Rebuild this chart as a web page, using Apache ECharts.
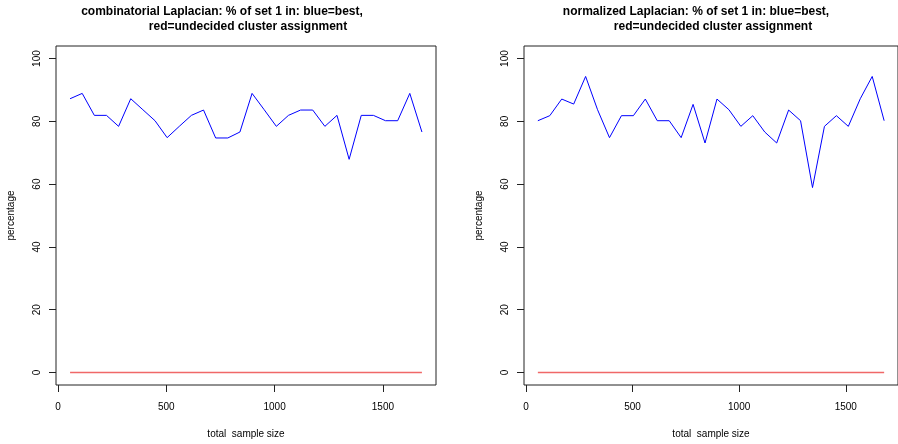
<!DOCTYPE html>
<html>
<head>
<meta charset="utf-8">
<script src="https://cdn.jsdelivr.net/npm/echarts@6/dist/echarts.min.js"></script>
<style>
html,body{margin:0;padding:0;background:#fff;}
#chart{width:898px;height:444px;}
</style>
</head>
<body>
<div id="chart"></div>
<script>
var sampleSizes = [56,112,168,224,280,336,392,448,504,560,616,672,728,784,840,896,952,1008,1064,1120,1176,1232,1288,1344,1400,1456,1512,1568,1624,1680];
var combBest = [87.2,88.9,81.9,81.9,78.4,87.2,83.7,80.2,74.8,78.4,81.9,83.6,74.7,74.7,76.6,88.9,83.7,78.4,81.9,83.6,83.6,78.4,81.9,67.9,81.9,81.9,80.2,80.2,88.9,76.6];
var combUndecided = [0,0,0,0,0,0,0,0,0,0,0,0,0,0,0,0,0,0,0,0,0,0,0,0,0,0,0,0,0,0];
var normBest = [80.2,81.8,87.1,85.5,94.3,83.7,74.8,81.8,81.8,87.1,80.2,80.2,74.8,85.4,73.1,87.1,83.7,78.4,81.8,76.6,73.1,83.6,80.2,58.9,78.4,81.8,78.4,87.2,94.3,80.2];
var normUndecided = [0,0,0,0,0,0,0,0,0,0,0,0,0,0,0,0,0,0,0,0,0,0,0,0,0,0,0,0,0,0];
var xTicks = [0,500,1000,1500];
var yTicks = [0,20,40,60,80,100];
var titleLeft1 = 'combinatorial Laplacian: % of set 1 in: blue=best,';
var titleRight1 = 'normalized Laplacian: % of set 1 in: blue=best,';
var titleLine2 = 'red=undecided cluster assignment';

function pairs(xs, ys){ return xs.map(function(x,i){ return [x, ys[i]]; }); }
function plain(v){ return String(v); }

var FONT = '"Liberation Sans", Arial, Helvetica, sans-serif';
var axisCol = '#222';

function xAxisDef(gi){
  return {
    type:'value', gridIndex:gi, min:-8.96, max:1744.96,
    axisLine:{show:false, onZero:false}, splitLine:{show:false},
    axisTick:{show:true, inside:false, length:7, customValues:xTicks, lineStyle:{color:axisCol,width:1}},
    axisLabel:{customValues:xTicks, formatter:plain, margin:17, color:'#000', fontSize:10, fontFamily:FONT},
    name:'total  sample size', nameLocation:'middle', nameGap:44,
    nameTextStyle:{color:'#000', fontSize:10, fontFamily:FONT}
  };
}
function yAxisDef(gi){
  return {
    type:'value', gridIndex:gi, min:-4, max:104,
    axisLine:{show:false, onZero:false}, splitLine:{show:false},
    axisTick:{show:true, inside:false, length:7, customValues:yTicks, lineStyle:{color:axisCol,width:1}},
    axisLabel:{customValues:yTicks, formatter:plain, rotate:90, margin:14, color:'#000', fontSize:10, fontFamily:FONT},
    name:'percentage', nameLocation:'middle', nameGap:40, nameRotate:90,
    nameTextStyle:{color:'#000', fontSize:10, fontFamily:FONT}
  };
}
var tStyle = {color:'#000', fontSize:12, fontWeight:'bold', fontFamily:FONT};

var chart = echarts.init(document.getElementById('chart'), null, {renderer:'canvas'});
chart.setOption({
  animation:false,
  backgroundColor:'#fff',
  title:[
    {text:titleLeft1, left:222, top:6, textAlign:'center', textStyle:tStyle, padding:0},
    {text:titleLine2, left:248, top:21, textAlign:'center', textStyle:tStyle, padding:0},
    {text:titleRight1, left:696, top:6, textAlign:'center', textStyle:tStyle, padding:0},
    {text:titleLine2, left:713, top:21, textAlign:'center', textStyle:tStyle, padding:0}
  ],
  grid:[
    {left:56, top:46, width:380, height:341, show:true, borderColor:axisCol, borderWidth:1, backgroundColor:'transparent'},
    {left:524, top:46, width:380, height:341, show:true, borderColor:axisCol, borderWidth:1, backgroundColor:'transparent'}
  ],
  xAxis:[xAxisDef(0), xAxisDef(1)],
  yAxis:[yAxisDef(0), yAxisDef(1)],
  series:[
    {type:'line', xAxisIndex:0, yAxisIndex:0, data:pairs(sampleSizes, combBest), showSymbol:false, lineStyle:{color:'#0000ff', width:1}, itemStyle:{color:'#0000ff'}},
    {type:'line', xAxisIndex:0, yAxisIndex:0, data:pairs(sampleSizes, combUndecided), showSymbol:false, lineStyle:{color:'#f06868', width:1.5}, itemStyle:{color:'#f06868'}},
    {type:'line', xAxisIndex:1, yAxisIndex:1, data:pairs(sampleSizes, normBest), showSymbol:false, lineStyle:{color:'#0000ff', width:1}, itemStyle:{color:'#0000ff'}},
    {type:'line', xAxisIndex:1, yAxisIndex:1, data:pairs(sampleSizes, normUndecided), showSymbol:false, lineStyle:{color:'#f06868', width:1.5}, itemStyle:{color:'#f06868'}}
  ]
});
</script>
</body>
</html>
